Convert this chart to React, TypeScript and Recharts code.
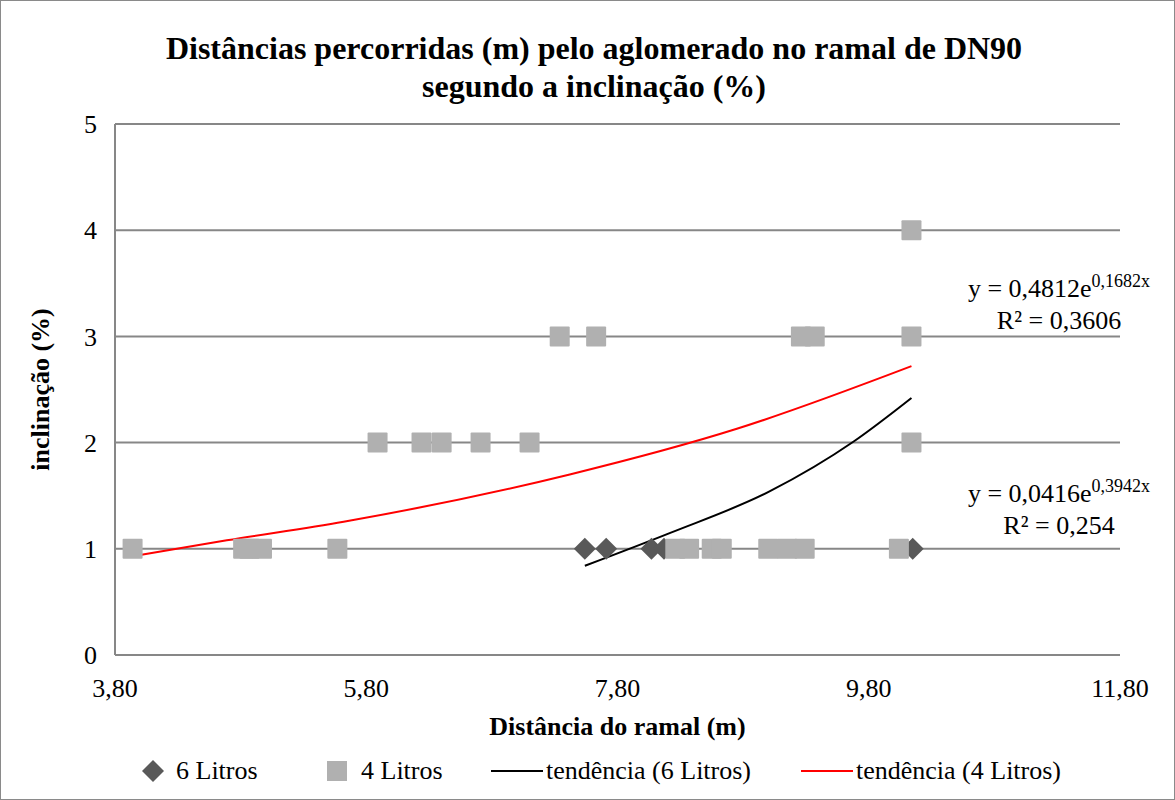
import React from 'react';
import {
  ComposedChart,
  Scatter,
  Line,
  XAxis,
  YAxis,
  CartesianGrid,
} from 'recharts';

// distances (m) and slopes (%)
const sixLitrosX = [7.54, 7.71, 8.07, 8.17, 10.15];
const sixLitrosY = [1, 1, 1, 1, 1];

const fourLitrosX = [
  3.94, 4.82, 4.87, 4.97, 5.57, 8.26, 8.37, 8.55, 8.63, 9.0, 9.15, 9.29, 10.04,
  5.89, 6.24, 6.4, 6.71, 7.1, 10.14,
  7.34, 7.63, 9.26, 9.37, 10.14,
  10.14,
];
const fourLitrosY = [
  1, 1, 1, 1, 1, 1, 1, 1, 1, 1, 1, 1, 1,
  2, 2, 2, 2, 2, 2,
  3, 3, 3, 3, 3,
  4,
];

// trend curves
const trendSixX = [7.54, 8.22, 9.01, 9.68, 10.14];
const trendSixY = [0.84, 1.15, 1.54, 2.01, 2.42];
const trendFourX = [3.94, 4.69, 5.62, 7.42, 8.75, 10.14];
const trendFourY = [0.93, 1.08, 1.255, 1.7, 2.13, 2.72];

const xTicks = [3.8, 5.8, 7.8, 9.8, 11.8];
const yTicks = [0, 1, 2, 3, 4, 5];

const zip = (xs: number[], ys: number[]) => xs.map((x, i) => ({ x, y: ys[i] }));

const sixData = zip(sixLitrosX, sixLitrosY);
const fourData = zip(fourLitrosX, fourLitrosY);
const trendSix = zip(trendSixX, trendSixY);
const trendFour = zip(trendFourX, trendFourY);

const FONT = '"Liberation Serif", "Times New Roman", serif';
const FS = 26;
const DARK = '#595959';
const LIGHT = '#b0b0b0';
const GRID = '#878787';

const Diamond = ({ cx, cy }: any) => (
  <path d={`M${cx},${cy - 11} L${cx + 11},${cy} L${cx},${cy + 11} L${cx - 11},${cy} Z`} fill={DARK} />
);

const Square = ({ cx, cy }: any) => (
  <rect x={cx - 10} y={cy - 10} width={20} height={20} rx={1} fill={LIGHT} />
);

const fmt = (v: number) => v.toFixed(2).replace('.', ',');

const abs = (left: number, top: number): React.CSSProperties => ({
  position: 'absolute',
  left,
  top,
  fontFamily: FONT,
  fontSize: FS,
  lineHeight: '30px',
  color: '#000',
  whiteSpace: 'nowrap',
});

export default function App() {
  return (
    <div
      style={{
        position: 'absolute',
        left: 0,
        top: 0,
        width: 1175,
        height: 800,
        background: '#fff',
        boxSizing: 'border-box',
        border: '1px solid #8a8a8a',
        fontFamily: FONT,
      }}
    >
      <div
        style={{
          position: 'absolute',
          left: 0,
          top: 28,
          width: 1186,
          textAlign: 'center',
          fontFamily: FONT,
          fontWeight: 'bold',
          fontSize: 32,
          lineHeight: '38px',
        }}
      >
        Distâncias percorridas (m) pelo aglomerado no ramal de DN90
        <br />
        segundo a inclinação (%)
      </div>

      <div style={{ position: 'absolute', left: -1, top: -1 }}>
        <ComposedChart
          width={1175}
          height={800}
          margin={{ top: 124, right: 55, bottom: 0, left: 0 }}
          style={{ fontFamily: FONT }}
        >
          <CartesianGrid vertical={false} stroke={GRID} strokeWidth={2} />
          <XAxis
            type="number"
            dataKey="x"
            domain={[3.8, 11.8]}
            ticks={xTicks}
            tickFormatter={fmt}
            allowDataOverflow
            stroke={GRID}
            strokeWidth={2}
            tickLine={false}
            tickMargin={18}
            tick={{ fill: '#000', fontSize: FS, fontFamily: FONT }}
            label={{
              value: 'Distância do ramal (m)',
              position: 'insideBottom',
              offset: 65,
              style: { fill: '#000', fontSize: FS, fontWeight: 'bold', fontFamily: FONT },
            }}
            height={145}
          />
          <YAxis
            type="number"
            dataKey="y"
            domain={[0, 5]}
            ticks={yTicks}
            stroke={GRID}
            strokeWidth={2}
            tickLine={false}
            tickMargin={12}
            tick={{ fill: '#000', fontSize: FS, fontFamily: FONT }}
            label={{
              value: 'inclinação (%)',
              angle: -90,
              position: 'insideLeft',
              offset: 40,
              style: { fill: '#000', fontSize: FS, fontWeight: 'bold', fontFamily: FONT, textAnchor: 'middle' },
            }}
            width={115}
          />
          <Scatter name="6 Litros" data={sixData} dataKey="y" shape={<Diamond />} isAnimationActive={false} />
          <Scatter name="4 Litros" data={fourData} dataKey="y" shape={<Square />} isAnimationActive={false} />
          <Line
            name="tendência (6 Litros)"
            data={trendSix}
            dataKey="y"
            type="monotone"
            stroke="#000"
            strokeWidth={2}
            dot={false}
            activeDot={false}
            isAnimationActive={false}
          />
          <Line
            name="tendência (4 Litros)"
            data={trendFour}
            dataKey="y"
            type="monotone"
            stroke="#ff0000"
            strokeWidth={2}
            dot={false}
            activeDot={false}
            isAnimationActive={false}
          />
        </ComposedChart>
      </div>

      {/* trend equations */}
      <div style={{ ...abs(940, 264), width: 236, textAlign: 'center', lineHeight: '32px' }}>
        y = 0,4812e<sup style={{ fontSize: 18 }}>0,1682x</sup>
        <br />R² = 0,3606
      </div>
      <div style={{ ...abs(940, 469), width: 236, textAlign: 'center', lineHeight: '32px' }}>
        y = 0,0416e<sup style={{ fontSize: 18 }}>0,3942x</sup>
        <br />R² = 0,254
      </div>

      {/* legend */}
      <svg style={{ position: 'absolute', left: 0, top: 755 }} width={1175} height={30}>
        <path d="M152,4 L163,15 L152,26 L141,15 Z" fill={DARK} />
        <rect x={326} y={5} width={20} height={20} fill={LIGHT} />
        <line x1={490} y1={15} x2={542} y2={15} stroke="#000" strokeWidth={2} />
        <line x1={800} y1={15} x2={852} y2={15} stroke="#ff0000" strokeWidth={2} />
      </svg>
      <div style={abs(175, 755)}>6 Litros</div>
      <div style={abs(360, 755)}>4 Litros</div>
      <div style={abs(545, 755)}>tendência (6 Litros)</div>
      <div style={abs(855, 755)}>tendência (4 Litros)</div>
    </div>
  );
}
